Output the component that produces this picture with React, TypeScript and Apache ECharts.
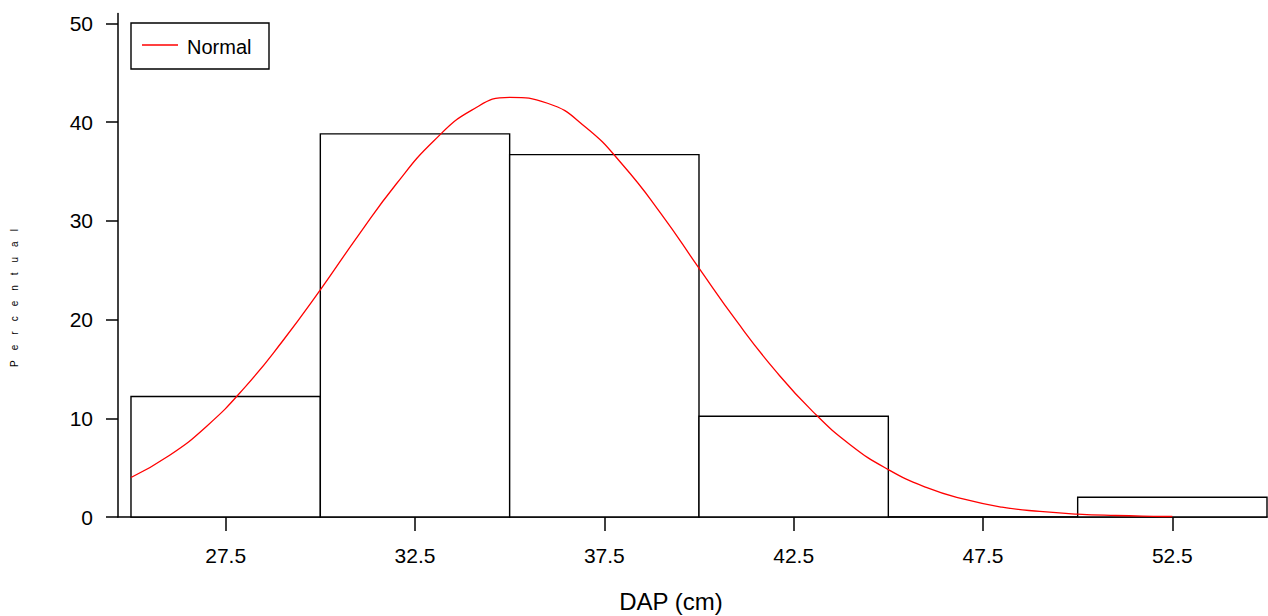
import React, { useEffect, useRef } from "react";
import * as echarts from "echarts";

// Histogram bins (DAP, cm): start, end, percent
const binStarts = [25, 30, 35, 40, 45, 50];
const binWidth = 5;
const binPercents = [12.2, 38.8, 36.7, 10.2, 0, 2.0];

// Fitted normal curve
const curveX = [25, 26, 27, 28, 29, 30, 31, 32, 33, 34, 35, 36, 37, 38, 39, 40, 41, 42, 43, 44, 45, 46, 47, 48, 49, 50, 51, 52, 52.5];
const curveY = [4.0, 6.2, 9.2, 13.1, 17.8, 23.0, 28.5, 33.7, 38.1, 41.2, 42.5, 41.9, 39.5, 35.6, 30.7, 25.2, 19.8, 14.9, 10.7, 7.3, 4.8, 3.0, 1.8, 1.0, 0.56, 0.29, 0.15, 0.07, 0.05];

const xTickValues = [27.5, 32.5, 37.5, 42.5, 47.5, 52.5];
const xMin = 24.657;
const xMax = 55;
const yMin = 0;
const yMax = 51;
const yInterval = 10;

const legendLabel = "Normal";
const xTitle = "DAP (cm)";
const yTitle = "Percentual";

const FONT = "'Liberation Sans', Arial, Helvetica, sans-serif";

export default function App() {
  const ref = useRef<HTMLDivElement>(null);
  useEffect(() => {
    if (!ref.current) return;
    const chart = echarts.init(ref.current, null, { renderer: "svg" });
    const barData = binStarts.map((s, i) => [s, s + binWidth, binPercents[i]]);
    const lineData = curveX.map((x, i) => [x, curveY[i]]);
    chart.setOption({
      animation: false,
      backgroundColor: "#fff",
      grid: { left: 118, right: 1, top: 13.4, bottom: 99, containLabel: false },
      xAxis: {
        type: "value",
        min: xMin,
        max: xMax,
        splitLine: { show: false },
        axisLine: { show: true, onZero: false, lineStyle: { color: "#000", width: 1.5 } },
        axisTick: { show: true, length: 14, customValues: xTickValues, lineStyle: { color: "#000", width: 1.5 } },
        axisLabel: {
          customValues: xTickValues,
          margin: 28,
          fontSize: 21,
          color: "#000",
          fontFamily: FONT,
        },
      },
      yAxis: {
        type: "value",
        min: yMin,
        max: yMax,
        interval: yInterval,
        splitLine: { show: false },
        axisLine: { show: true, lineStyle: { color: "#000", width: 1.5 } },
        axisTick: { show: true, length: 12, lineStyle: { color: "#000", width: 1.5 } },
        axisLabel: { margin: 25, fontSize: 21, color: "#000", fontFamily: FONT },
      },
      series: [
        {
          type: "custom",
          name: "Histogram",
          z: 2,
          data: barData,
          encode: { x: [0, 1], y: 2 },
          renderItem: (params: any, api: any) => {
            const x0 = api.value(0);
            const x1 = api.value(1);
            const v = api.value(2);
            const p0 = api.coord([x0, v]);
            const p1 = api.coord([x1, 0]);
            return {
              type: "rect",
              shape: { x: p0[0], y: p0[1], width: p1[0] - p0[0], height: p1[1] - p0[1] },
              style: { fill: "#fff", stroke: "#000", lineWidth: 1.4 },
            };
          },
        },
        {
          type: "line",
          name: legendLabel,
          z: 3,
          data: lineData,
          smooth: true,
          showSymbol: false,
          symbol: "none",
          lineStyle: { color: "#ff0000", width: 1.3 },
        },
      ],
      graphic: [
        {
          type: "rect",
          shape: { x: 131, y: 23, width: 138, height: 46 },
          style: { fill: "#fff", stroke: "#000", lineWidth: 1.4 },
          z: 10,
        },
        {
          type: "line",
          shape: { x1: 142, y1: 45, x2: 178, y2: 45 },
          style: { stroke: "#ff0000", lineWidth: 1.3 },
          z: 11,
        },
        {
          type: "text",
          x: 187,
          y: 47,
          z: 11,
          style: {
            text: legendLabel,
            fontSize: 20,
            fontFamily: FONT,
            fill: "#000",
            textAlign: "left",
            textVerticalAlign: "middle",
          },
        },
        {
          type: "text",
          x: 671,
          y: 601,
          style: {
            text: xTitle,
            fontSize: 24,
            fontFamily: FONT,
            fill: "#000",
            textAlign: "center",
            textVerticalAlign: "middle",
          },
        },
        {
          type: "text",
          x: 14,
          y: 298,
          rotation: Math.PI / 2,
          style: {
            text: Array.from(yTitle).join("\u2003"),
            fontSize: 10,
            fontFamily: FONT,
            fill: "#000",
            textAlign: "center",
            textVerticalAlign: "middle",
          },
        },
      ],
    });
    return () => chart.dispose();
  }, []);
  return (
    <div
      ref={ref}
      style={{ position: "absolute", left: 0, top: 0, width: 1268, height: 616, background: "#fff" }}
    />
  );
}
